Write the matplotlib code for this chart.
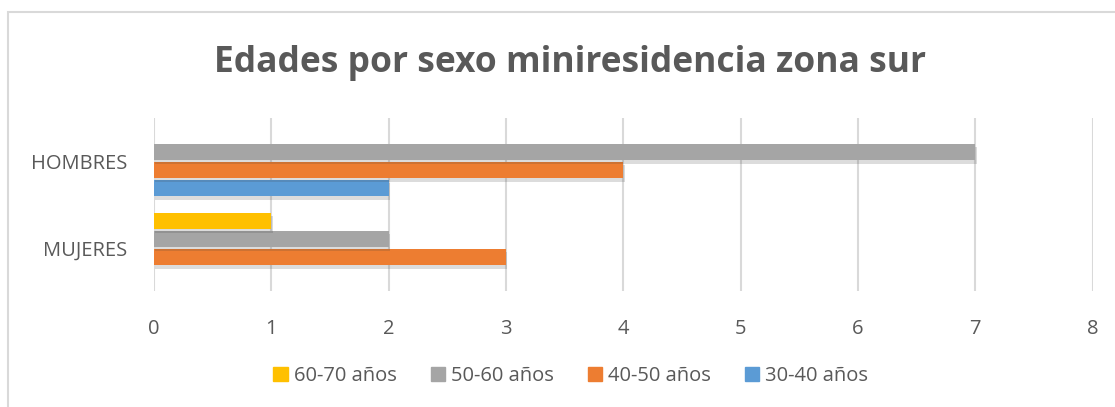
import numpy as np
import matplotlib.pyplot as plt
import matplotlib.patheffects as pe
from matplotlib.patches import Rectangle, Patch

# datos
categorias = ["MUJERES", "HOMBRES"]
series = ["30-40 años", "40-50 años", "50-60 años", "60-70 años"]
v_30_40 = [0, 2]
v_40_50 = [3, 4]
v_50_60 = [2, 7]
v_60_70 = [1, 0]
valores = [v_30_40, v_40_50, v_50_60, v_60_70]
colores = ["#5B9BD5", "#ED7D31", "#A5A5A5", "#FFC000"]

gris = "#595959"
plt.rcParams['font.family'] = ['Open Sans', 'DejaVu Sans']

fig = plt.figure(figsize=(11.15, 4.07), dpi=100)
ax = fig.add_axes([0.138, 0.284, 0.842, 0.427])

y = np.arange(len(categorias))
paso = 0.207
for i, (nombre, vals, c) in enumerate(zip(series, valores, colores)):
    pos = y - 1.5 * paso + i * paso
    b = ax.barh(pos, vals, height=paso * 0.9, color=c, zorder=3)
    for r in b:
        r.set_path_effects([pe.SimplePatchShadow(offset=(1, -2.5), alpha=0.18, shadow_rgbFace="#404040"),
                            pe.Normal()])

ax.set_xlim(0, 8)
ax.set_ylim(-0.5, 1.5)
ax.set_yticks(y)
ax.set_yticklabels(categorias)
ax.set_xticks(range(9))
ax.tick_params(length=0, labelsize=14.5, colors=gris)
ax.tick_params(axis='x', pad=20)
ax.tick_params(axis='y', pad=19)
ax.grid(axis='x', color="#d9d9d9", linewidth=1.5, zorder=0)
for s in ax.spines.values():
    s.set_visible(False)

fig.text(0.511, 0.845, "Edades por sexo miniresidencia zona sur", ha='center', va='center',
         fontsize=25.5, fontweight='bold', color=gris)

handles = [Patch(color=c) for c in colores][::-1]
fig.legend(handles, series[::-1], loc='center', bbox_to_anchor=(0.512, 0.075), ncol=4, frameon=False,
           fontsize=14.5, labelcolor=gris, handlelength=0.7, handleheight=0.7, handletextpad=0.3,
           columnspacing=1.7)

fig.patches.append(Rectangle((8 / 1115, -0.1), 1.2, 1 - 12 / 407 + 0.1, transform=fig.transFigure,
                             fill=False, edgecolor="#d9d9d9", linewidth=1.5))

fig.savefig("out.png", dpi=100)
